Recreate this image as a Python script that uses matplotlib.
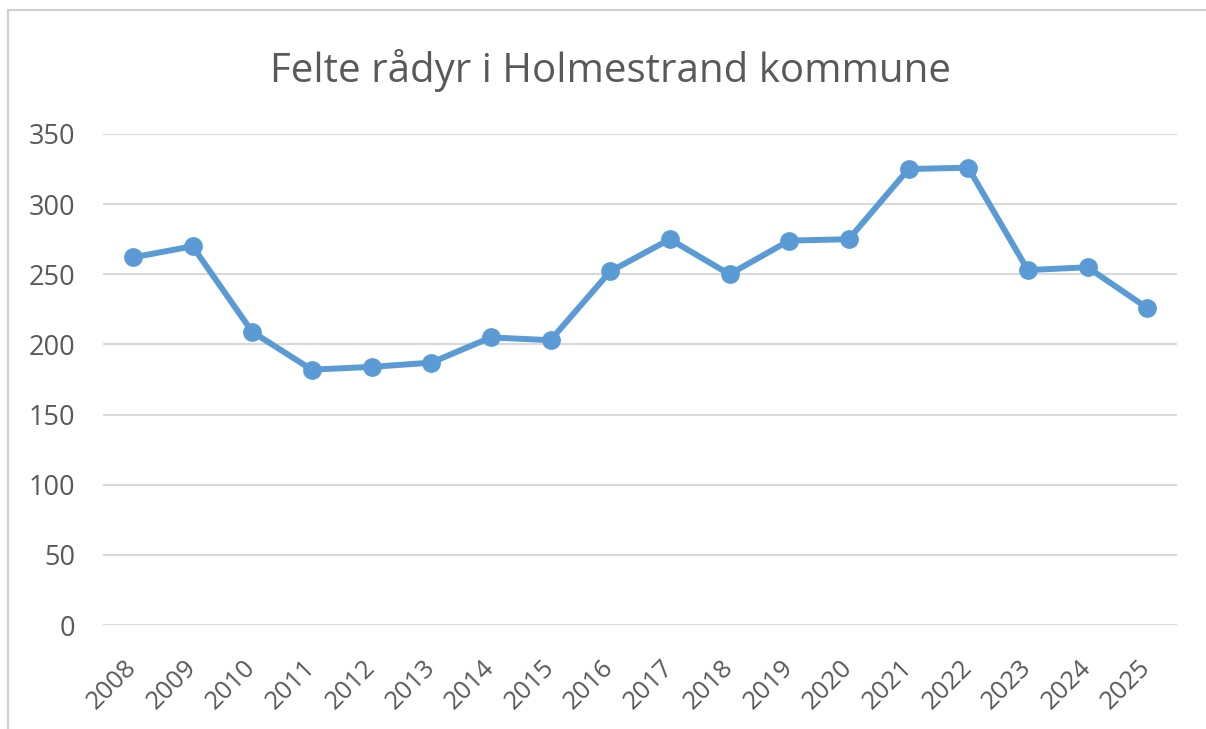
import matplotlib
matplotlib.use("Agg")
import matplotlib.pyplot as plt
from matplotlib.lines import Line2D

years = ["2008", "2009", "2010", "2011", "2012", "2013", "2014", "2015", "2016",
         "2017", "2018", "2019", "2020", "2021", "2022", "2023", "2024", "2025"]
felte = [262, 270, 209, 182, 184, 187, 205, 203, 252,
         275, 250, 274, 275, 325, 326, 253, 255, 226]
yticks = [0, 50, 100, 150, 200, 250, 300, 350]
title = "Felte rådyr i Holmestrand kommune"

plt.rcParams['font.family'] = ['Open Sans', 'DejaVu Sans']
text_col = "#595959"
grid_col = "#d9d9d9"
line_col = "#5B9BD5"

fig = plt.figure(figsize=(12.06, 7.29), dpi=100)
ax = fig.add_axes([103/1206, 104/729, (1177-103)/1206, (595-104)/729])

x = list(range(len(years)))
ax.plot(x, felte, color=line_col, lw=4.3, marker='o', ms=12.5,
        markerfacecolor=line_col, markeredgecolor=line_col, solid_joinstyle='round', zorder=3)

ax.set_xlim(-0.5, len(years) - 0.5)
ax.set_ylim(0, 350)
ax.set_yticks(yticks)
ax.set_yticklabels([str(v) for v in yticks])
ax.yaxis.grid(True, color=grid_col, lw=1.5)
ax.set_axisbelow(True)
for s in ax.spines.values():
    s.set_visible(False)
ax.tick_params(axis='y', length=0, pad=20, labelsize=19.5, labelcolor=text_col)
ax.set_xticks(x)
ax.set_xticklabels(years, rotation=45, ha='right', va='center', rotation_mode='anchor')
ax.tick_params(axis='x', length=0, pad=28, labelsize=18.5, labelcolor=text_col)

fig.text(611/1206, 1 - 70/729, title, ha='center', va='center', fontsize=29, color=text_col)

# chart area border (left and top)
fig.add_artist(Line2D([8/1206, 8/1206], [0, 1 - 10/729], transform=fig.transFigure, color="#d0d0d0", lw=1.5))
fig.add_artist(Line2D([8/1206, 1], [1 - 10/729, 1 - 10/729], transform=fig.transFigure, color="#d0d0d0", lw=1.5))

fig.savefig("out.png", dpi=100, facecolor="white")
